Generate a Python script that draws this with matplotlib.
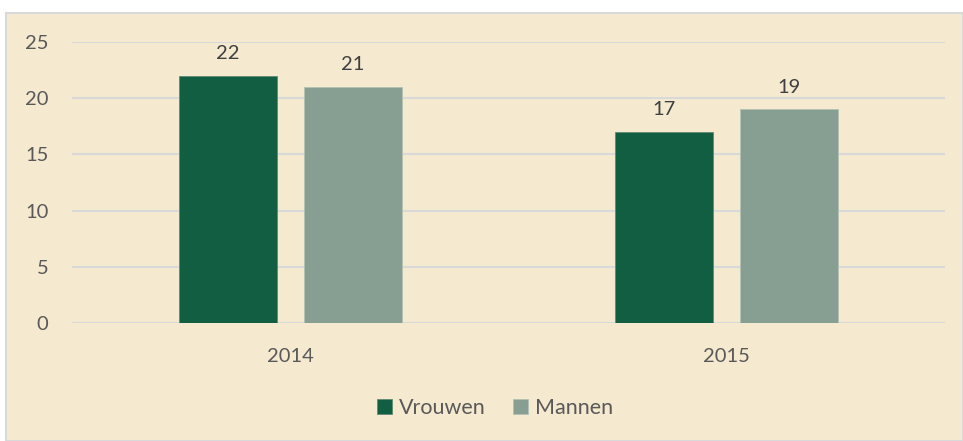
import matplotlib.pyplot as plt
from matplotlib.patches import Rectangle
import numpy as np

years = ["2014", "2015"]
vrouwen = [22, 17]
mannen = [21, 19]
series_names = ["Vrouwen", "Mannen"]
yticks = [0, 5, 10, 15, 20, 25]

bg = "#F5E9D0"
text_col = "#595959"

plt.rcParams['font.family'] = ['Lato', 'DejaVu Sans']

fig = plt.figure(figsize=(9.63, 4.41), dpi=100)
fig.patch.set_facecolor("white")
# chart frame
frame = Rectangle((6 / 963, 0), 1 - 6 / 963, 1 - 13 / 441,
                  transform=fig.transFigure, facecolor=bg,
                  edgecolor="#D9D9D9", linewidth=1.5, zorder=-10)
fig.add_artist(frame)

ax = fig.add_axes([72 / 963, 118 / 441, 873 / 963, 281 / 441])
ax.set_facecolor("none")
ax.set_zorder(1)

x = np.arange(len(years))
w = 0.225
off = 0.143
b1 = ax.bar(x - off, vrouwen, w, color="#115E42", edgecolor="#5E8C74", linewidth=0.6, label=series_names[0], zorder=3)
b2 = ax.bar(x + off, mannen, w, color="#869F92", edgecolor="#B4C2B4", linewidth=0.6, label=series_names[1], zorder=3)

for bars in (b1, b2):
    for r in bars:
        ax.annotate(str(int(r.get_height())), (r.get_x() + r.get_width() / 2, r.get_height()),
                    xytext=(0, 10), textcoords="offset points", ha="center", va="bottom",
                    fontsize=14.5, color="#404040")

ax.set_xlim(-0.5, 1.5)
ax.set_ylim(0, 25)
ax.set_yticks(yticks)
ax.set_xticks(x)
ax.set_xticklabels(years)
ax.yaxis.grid(True, color="#D9D9D9", linewidth=1.5, zorder=0)
ax.set_axisbelow(True)
for s in ax.spines.values():
    s.set_visible(False)
ax.tick_params(axis="both", length=0, labelsize=14.5, labelcolor=text_col)
ax.tick_params(axis="y", pad=17)
ax.tick_params(axis="x", pad=18)

fig.legend(handles=[b1, b2], labels=series_names, loc="center", bbox_to_anchor=(495 / 963, 1 - 408 / 441),
           ncol=2, frameon=False, fontsize=15.5, labelcolor=text_col, handlelength=0.7, handleheight=0.7,
           handletextpad=0.3, columnspacing=1.3)

fig.savefig("out.png", dpi=100)
